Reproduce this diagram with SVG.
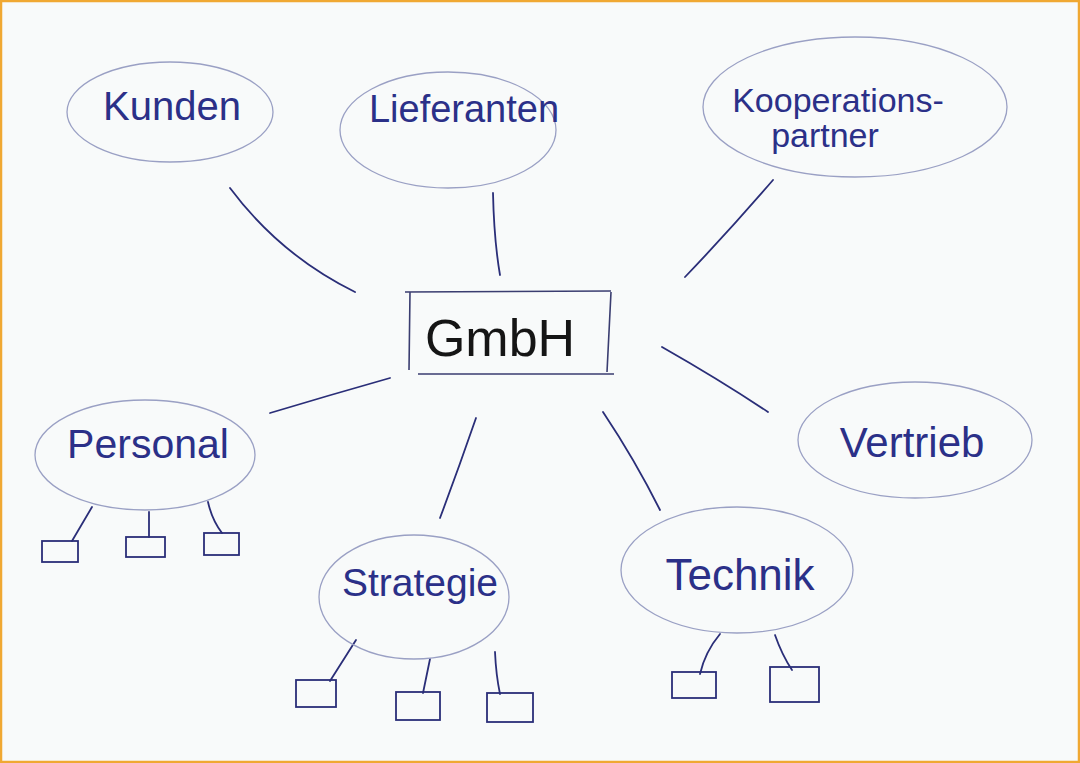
<svg xmlns="http://www.w3.org/2000/svg" width="1080" height="763" viewBox="0 0 1080 763">
<style>
.bub{fill:none;stroke:#9aa0c4;stroke-width:1.3}
.lbl{font-family:"Liberation Sans","DejaVu Sans",sans-serif;fill:#2b3088;font-weight:normal;text-anchor:middle}
.ln{fill:none;stroke:#2a2e78;stroke-width:1.8;stroke-linecap:round}
.box{fill:none;stroke:#2a2e78;stroke-width:1.8}
</style>
<rect x="0" y="0" width="1080" height="763" fill="#f8fafa"/>
<rect x="1" y="1" width="1078" height="761" fill="none" stroke="#f0a832" stroke-width="2.5"/>
<g id="connectors">
<path class="ln" d="M230 188 Q280 255 355 292"/>
<path class="ln" d="M493 193 Q494 240 500 275"/>
<path class="ln" d="M773 180 Q730 230 685 277"/>
<path class="ln" d="M662 347 Q720 380 768 412"/>
<path class="ln" d="M603 412 Q635 460 660 510"/>
<path class="ln" d="M476 418 Q458 470 440 518"/>
<path class="ln" d="M390 378 Q330 395 270 413"/>
<path class="ln" d="M92 507 L72 541"/>
<path class="ln" d="M149 512 L149 537"/>
<path class="ln" d="M208 502 Q212 520 222 533"/>
<path class="ln" d="M356 640 L330 681"/>
<path class="ln" d="M430 659 L423 693"/>
<path class="ln" d="M495 652 Q496 675 500 694"/>
<path class="ln" d="M720 634 Q705 652 700 674"/>
<path class="ln" d="M775 635 Q782 655 792 670"/>
</g>
<g id="gmbh">
<path d="M405 292 L611 291 M410 292 L409 370 M418 374 L614 374 M611 292 L607 372" fill="none" stroke="#3a3d70" stroke-width="1.6"/>
<text x="500" y="356" font-family="Liberation Sans, sans-serif" font-size="52" fill="#151515" text-anchor="middle">GmbH</text>
</g>
<g id="kunden"><ellipse class="bub" cx="170" cy="112" rx="103" ry="50"/><text class="lbl" x="172" y="120" font-size="40">Kunden</text></g>
<g id="lieferanten"><ellipse class="bub" cx="448" cy="130" rx="108" ry="58"/><text class="lbl" x="464" y="122" font-size="38">Lieferanten</text></g>
<g id="kooperationspartner"><ellipse class="bub" cx="855" cy="107" rx="152" ry="70"/><text class="lbl" x="838" y="112" font-size="34">Kooperations-</text><text class="lbl" x="825" y="147" font-size="34">partner</text></g>
<g id="personal"><ellipse class="bub" cx="145" cy="455" rx="110" ry="55"/><text class="lbl" x="148" y="458" font-size="41">Personal</text>
<rect class="box" x="42" y="541" width="36" height="21"/><rect class="box" x="126" y="537" width="39" height="20"/><rect class="box" x="204" y="533" width="35" height="22"/></g>
<g id="vertrieb"><ellipse class="bub" cx="915" cy="440" rx="117" ry="58"/><text class="lbl" x="912" y="457" font-size="42">Vertrieb</text></g>
<g id="strategie"><ellipse class="bub" cx="414" cy="597" rx="95" ry="62"/><text class="lbl" x="420" y="596" font-size="39">Strategie</text>
<rect class="box" x="296" y="680" width="40" height="27"/><rect class="box" x="396" y="692" width="44" height="28"/><rect class="box" x="487" y="693" width="46" height="29"/></g>
<g id="technik"><ellipse class="bub" cx="737" cy="570" rx="116" ry="63"/><text class="lbl" x="740" y="590" font-size="44">Technik</text>
<rect class="box" x="672" y="672" width="44" height="26"/><rect class="box" x="770" y="667" width="49" height="35"/></g>
</svg>
